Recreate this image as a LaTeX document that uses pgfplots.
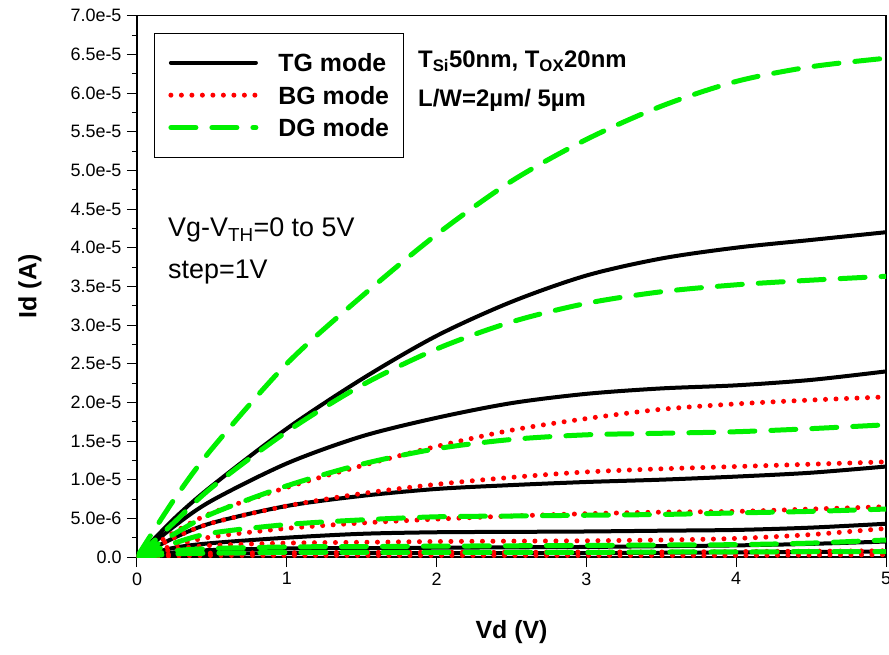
\documentclass[border=0pt]{standalone}
\usepackage{pgfplots}
\pgfplotsset{compat=1.18}
\usepackage{pgfplotstable}
\usepackage{fontspec}
\setmainfont{Liberation Sans}
\definecolor{dggreen}{RGB}{0,240,0}
\definecolor{bgred}{RGB}{255,0,0}

% Id values in units of 1e-5 A
\pgfplotstableread{
x    t0    t1    t2    t3    t4    t5
0    0     0     0     0     0     0
0.25 0.03  0.06  0.12  0.25  0.40  0.50
0.5  0.04  0.09  0.18  0.44  0.73  0.92
1    0.05  0.11  0.25  0.66  1.21  1.66
1.5  0.05  0.115 0.30  0.79  1.56  2.30
2    0.05  0.12  0.32  0.88  1.80  2.86
2.5  0.05  0.125 0.325 0.93  1.99  3.30
3    0.05  0.13  0.33  0.97  2.11  3.64
3.5  0.055 0.14  0.34  1.00  2.18  3.86
4    0.06  0.15  0.35  1.04  2.22  4.00
4.5  0.065 0.17  0.38  1.09  2.29  4.10
5    0.07  0.20  0.43  1.17  2.40  4.20
}\tg

\pgfplotstableread{
x    b0    b1    b2    b3    b4    b5
0    0     0     0     0     0     0
0.25 0.015 0.04  0.10  0.15  0.25  0.32
0.5  0.02  0.05  0.15  0.26  0.44  0.57
1    0.02  0.055 0.18  0.37  0.66  0.90
1.5  0.02  0.06  0.19  0.44  0.82  1.18
2    0.02  0.06  0.20  0.49  0.94  1.43
2.5  0.02  0.06  0.205 0.53  1.03  1.64
3    0.02  0.065 0.21  0.56  1.10  1.79
3.5  0.02  0.065 0.22  0.58  1.14  1.91
4    0.02  0.07  0.24  0.59  1.17  1.98
4.5  0.025 0.075 0.29  0.62  1.20  2.03
5    0.03  0.08  0.37  0.65  1.23  2.07
}\bg

\pgfplotstableread{
x    d0    d1    d2    d3    d4    d5
0    0     0     0     0     0     0
0.25 0.04  0.08  0.18  0.30  0.45  0.75
0.5  0.05  0.11  0.31  0.56  0.90  1.40
1    0.06  0.13  0.42  0.92  1.62  2.50
1.5  0.06  0.135 0.48  1.20  2.22  3.37
2    0.06  0.14  0.52  1.40  2.69  4.17
2.5  0.06  0.145 0.53  1.52  3.04  4.86
3    0.06  0.15  0.54  1.58  3.28  5.40
3.5  0.065 0.155 0.55  1.60  3.43  5.83
4    0.065 0.16  0.57  1.62  3.52  6.15
4.5  0.07  0.18  0.59  1.66  3.58  6.34
5    0.07  0.22  0.62  1.71  3.63  6.45
}\dg

\tikzset{
  tgline/.style={black, line width=4bp, line cap=round},
  bgline/.style={bgred, line width=5bp, line cap=round, dash pattern=on 0bp off 10.5bp},
  dgline/.style={dggreen, line width=5bp, line cap=round, dash pattern=on 25bp off 16bp},
}

\begin{document}
\begin{tikzpicture}
\path[use as bounding box] (-137bp,-98bp) rectangle (752bp,557bp);
\begin{axis}[
  scale only axis,
  width=749bp, height=541.3bp,
  xmin=0, xmax=5, ymin=0, ymax=7,
  xtick={0,1,2,3,4,5},
  ytick={0,0.5,...,7},
  yticklabels={0.0,5.0e-6,1.0e-5,1.5e-5,2.0e-5,2.5e-5,3.0e-5,3.5e-5,4.0e-5,4.5e-5,5.0e-5,5.5e-5,6.0e-5,6.5e-5,7.0e-5},
  minor y tick num=1,
  tick align=outside,
  tick pos=left,
  major tick length=10bp,
  minor tick length=5bp,
  axis line style={line width=1.2bp},
  every tick/.style={black, line width=1bp},
  /pgf/number format/assume math mode=true,
  tick label style={font=\fontsize{18}{20}\selectfont},
  xticklabel style={yshift=-2bp},
  yticklabel style={xshift=-2bp},
  xlabel={\textbf{Vd (V)}},
  ylabel={\textbf{Id (A)}},
  xlabel style={font=\fontsize{25}{28}\selectfont, at={(axis description cs:0.5,-0.1386)}, anchor=center},
  ylabel style={font=\fontsize{25}{28}\selectfont, at={(axis description cs:-0.143,0.5)}, anchor=center},
  legend style={at={(axis description cs:0.0227,0.968)}, anchor=north west,
    draw=black, line width=0.8bp,
    font=\bfseries\fontsize{25}{28}\selectfont,
    inner xsep=14bp, inner ysep=13bp,
    column sep=20bp,
    nodes={inner xsep=0bp, inner ysep=7.25bp, text height=18bp, text depth=0bp}},
  legend cell align=left,
  legend image code/.code={\draw[#1] (0bp,0bp) -- (85bp,0bp);},
]
% TG mode
\addplot[tgline, smooth] table[x=x, y=t5] {\tg};
\addlegendentry{TG mode}
\addplot[tgline, smooth, forget plot] table[x=x, y=t4] {\tg};
\addplot[tgline, smooth, forget plot] table[x=x, y=t3] {\tg};
\addplot[tgline, smooth, forget plot] table[x=x, y=t2] {\tg};
\addplot[tgline, smooth, forget plot] table[x=x, y=t1] {\tg};
\addplot[tgline, smooth, forget plot] table[x=x, y=t0] {\tg};
% BG mode
\addplot[bgline, smooth] table[x=x, y=b5] {\bg};
\addlegendentry{BG mode}
\addplot[bgline, smooth, forget plot] table[x=x, y=b4] {\bg};
\addplot[bgline, smooth, forget plot] table[x=x, y=b3] {\bg};
\addplot[bgline, smooth, forget plot] table[x=x, y=b2] {\bg};
\addplot[bgline, smooth, forget plot] table[x=x, y=b1] {\bg};
\addplot[bgline, smooth, forget plot] table[x=x, y=b0] {\bg};
% DG mode
\addplot[dgline, smooth] table[x=x, y=d5] {\dg};
\addlegendentry{DG mode}
\addplot[dgline, smooth, forget plot] table[x=x, y=d4] {\dg};
\addplot[dgline, smooth, forget plot] table[x=x, y=d3] {\dg};
\addplot[dgline, smooth, forget plot] table[x=x, y=d2] {\dg};
\addplot[dgline, smooth, forget plot] table[x=x, y=d1] {\dg};
\addplot[dgline, smooth, forget plot] table[x=x, y=d0] {\dg};

\node[anchor=base west, font=\bfseries\fontsize{24}{28}\selectfont, inner sep=0pt] at (axis cs:1.876,6.33) {T\textsubscript{Si}50nm, T\textsubscript{OX}20nm};
\node[anchor=base west, font=\bfseries\fontsize{24}{28}\selectfont, inner sep=0pt] at (axis cs:1.876,5.82) {L/W=2µm/ 5µm};
\node[anchor=base west, font=\fontsize{27}{30}\selectfont, inner sep=0pt] at (axis cs:0.207,4.14) {Vg-V\textsubscript{TH}=0 to 5V};
\node[anchor=base west, font=\fontsize{27}{30}\selectfont, inner sep=0pt] at (axis cs:0.207,3.60) {step=1V};
\end{axis}
\end{tikzpicture}
\end{document}
